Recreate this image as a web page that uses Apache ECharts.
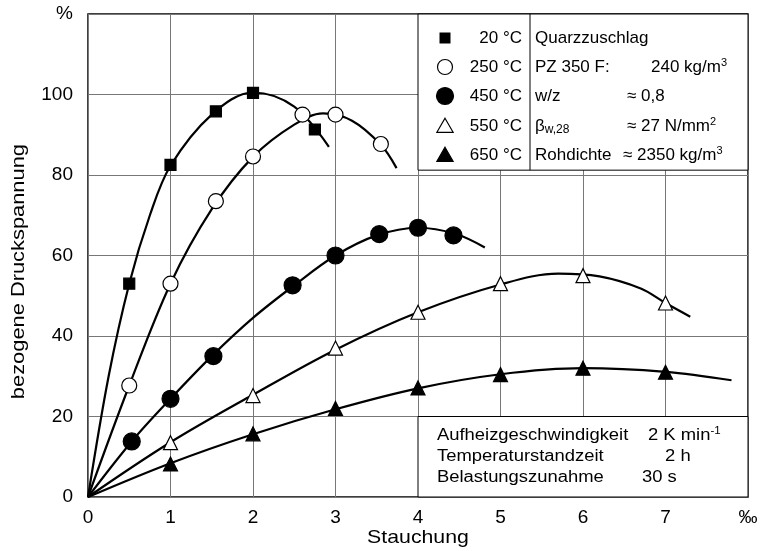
<!DOCTYPE html>
<html>
<head>
<meta charset="utf-8">
<script src="https://cdn.jsdelivr.net/npm/echarts@6/dist/echarts.min.js"></script>
<style>html,body{margin:0;padding:0;background:#fff}#c{width:762px;height:551px}</style>
</head>
<body>
<div id="c"></div>
<script>
// ---- data ----
const xTicks = [0, 1, 2, 3, 4, 5, 6, 7, 8];
const yTicks = [0, 20, 40, 60, 80, 100, 120];
const xUnit = '‰';
const yUnit = '%';
const xName = 'Stauchung';
const yName = 'bezogene Druckspannung';

const seriesNames = ['20 °C', '250 °C', '450 °C', '550 °C', '650 °C'];

// measured points
const pts20  = [[0.5, 53], [1, 82.5], [1.55, 95.8], [2, 100.4], [2.75, 91.3]];
const pts250 = [[0.5, 27.7], [1, 53], [1.55, 73.5], [2, 84.6], [2.6, 95], [3, 95], [3.55, 87.7]];
const pts450 = [[0.53, 13.8], [1, 24.4], [1.52, 35], [2.48, 52.6], [3, 60], [3.53, 65.3], [4, 66.9], [4.43, 65]];
const pts550 = [[1, 13.5], [2, 25.2], [3, 37], [4, 45.9], [5, 53], [6, 55], [7, 48.2]];
const pts650 = [[1, 8.2], [2, 15.7], [3, 22], [4, 27.1], [5, 30.4], [6, 32], [7, 31]];

// fitted curves
const curve20  = [[0, 0], [0.25, 30], [0.5, 53], [0.75, 70], [1, 82.3], [1.5, 95], [2, 100.5], [2.5, 97], [2.92, 87]];
const curve250 = [[0, 0], [0.5, 27.7], [1, 53], [1.5, 71.5], [2, 84.5], [2.5, 92.5], [2.85, 95.3], [3.2, 93.5], [3.55, 87.5], [3.74, 81.7]];
const curve450 = [[0, 0], [0.53, 13.8], [1, 24.4], [1.5, 35], [2, 44.5], [2.5, 52.6], [3, 60], [3.5, 65], [4, 66.9], [4.45, 65.4], [4.81, 62]];
const curve550 = [[0, 0], [1, 13.6], [2, 25.4], [3, 36.6], [4, 45.9], [5, 52.8], [5.7, 55.5], [6.2, 54.8], [6.7, 51.8], [7, 48.2], [7.3, 44.8]];
const curve650 = [[0, 0], [1, 8.4], [2, 15.6], [3, 21.8], [4, 27], [5, 30.5], [6, 32], [7, 31.1], [7.8, 29]];

const legendInfoLabels = ['Quarzzuschlag', 'PZ 350 F:', 'w/z', '{b|β}{sub|w,28}', 'Rohdichte'];
const legendInfoValues = ['', '240 kg/m{sup|3}', '≈ 0,8', '≈ 27 N/mm{sup|2}', '≈ 2350 kg/m{sup|3}'];
const condLabels = ['Aufheizgeschwindigkeit', 'Temperaturstandzeit', 'Belastungszunahme'];
const condValues = ['2 K min{sup|-1}', ' 2 h', '30 s'];

// ---- chart ----
const FONT = '"Liberation Sans", Arial, Helvetica, sans-serif';
const chart = echarts.init(document.getElementById('c'), null, {renderer: 'canvas'});

const markerDefs = [
  {symbol: 'rect', size: 11, fill: '#000'},
  {symbol: 'circle', size: 15, fill: '#fff'},
  {symbol: 'circle', size: 17, fill: '#000'},
  {symbol: 'triangle', size: 14, fill: '#fff'},
  {symbol: 'triangle', size: 14, fill: '#000'}
];
const ptsAll = [pts20, pts250, pts450, pts550, pts650];
const curvesAll = [curve20, curve250, curve450, curve550, curve650];

const series = [];
curvesAll.forEach((c, i) => {
  series.push({
    type: 'line', data: c, smooth: 0.35, showSymbol: false, silent: true,
    lineStyle: {color: '#000', width: 2.2}, z: 3
  });
});
ptsAll.forEach((p, i) => {
  const m = markerDefs[i];
  series.push({
    name: seriesNames[i], type: 'scatter', data: p, symbol: m.symbol, symbolSize: m.size,
    itemStyle: {color: m.fill, borderColor: '#000', borderWidth: 1.2, opacity: 1}, z: 5
  });
});

chart.setOption({
  animation: false,
  backgroundColor: '#fff',
  grid: {left: 88, right: 14, top: 14, bottom: 54, show: true, borderColor: '#000', borderWidth: 1.5, backgroundColor: 'transparent'},
  xAxis: {
    type: 'value', min: 0, max: 8, interval: 1,
    axisLine: {show: false}, axisTick: {show: false},
    axisLabel: {fontFamily: FONT, fontSize: 19, color: '#000', margin: 11,
      formatter: v => v === xTicks[xTicks.length - 1] ? xUnit : String(v)},
    splitLine: {show: true, lineStyle: {color: '#777', width: 1}}
  },
  yAxis: {
    type: 'value', min: 0, max: 120, interval: 20,
    axisLine: {show: false}, axisTick: {show: false},
    axisLabel: {fontFamily: FONT, fontSize: 19, color: '#000', margin: 15,
      formatter: v => v === yTicks[yTicks.length - 1] ? yUnit : String(v)},
    splitLine: {show: true, lineStyle: {color: '#777', width: 1}}
  },
  series: series
});

function px(x, y) { return chart.convertToPixel({gridIndex: 0}, [x, y]); }

function buildGraphics() {
  const g = [];
  // legend box (upper right)
  const a = px(4, 120), b = px(8, 81.2);
  g.push({type: 'rect', z: 10, shape: {x: a[0], y: a[1], width: b[0] - a[0], height: b[1] - a[1]},
    style: {fill: '#fff', stroke: '#000', lineWidth: 1}});
  const divX = a[0] + 112;
  g.push({type: 'line', z: 11, shape: {x1: divX, y1: a[1], x2: divX, y2: b[1]}, style: {stroke: '#000', lineWidth: 1}});
  const rowY = [24, 53, 82, 112, 141];
  const rich = {
    sup: {fontFamily: FONT, fontSize: 11, verticalAlign: 'top', lineHeight: 20, padding: [0, 0, 8, 0]},
    sub: {fontFamily: FONT, fontSize: 12, lineHeight: 20, padding: [8, 0, 0, 0]},
    b: {fontFamily: FONT, fontSize: 17, lineHeight: 20}
  };
  const rich2 = {
    sup: {fontFamily: FONT, fontSize: 10, verticalAlign: 'top', lineHeight: 18, padding: [0, 0, 8, 0]}
  };
  rowY.forEach((dy, i) => {
    const cy = a[1] + dy;
    const cx = a[0] + 27;
    const m = markerDefs[i];
    if (m.symbol === 'rect') {
      g.push({type: 'rect', z: 11, shape: {x: cx - 5.5, y: cy - 5.5, width: 11, height: 11}, style: {fill: '#000'}});
    } else if (m.symbol === 'circle') {
      const r = m.size / 2;
      g.push({type: 'circle', z: 11, shape: {cx: cx, cy: cy, r: r}, style: {fill: m.fill, stroke: '#000', lineWidth: 1.2}});
    } else {
      const s = m.size;
      g.push({type: 'polygon', z: 11, shape: {points: [[cx, cy - s * 0.55], [cx + s * 0.58, cy + s * 0.45], [cx - s * 0.58, cy + s * 0.45]]},
        style: {fill: m.fill, stroke: '#000', lineWidth: 1.2}});
    }
    g.push({type: 'text', z: 11, style: {text: seriesNames[i], x: a[0] + 104, y: cy, align: 'right', verticalAlign: 'middle',
      fontFamily: FONT, fontSize: 17, fill: '#000'}});
    g.push({type: 'text', z: 11, style: {text: legendInfoLabels[i], x: a[0] + 117, y: cy, align: 'left', verticalAlign: 'middle',
      fontFamily: FONT, fontSize: 17, fill: '#000', rich: rich}});
    if (legendInfoValues[i]) {
      const vx = i === 1 ? a[0] + 233 : (i === 4 ? a[0] + 205 : a[0] + 209);
      g.push({type: 'text', z: 11, style: {text: legendInfoValues[i], x: vx, y: cy, align: 'left', verticalAlign: 'middle',
        fontFamily: FONT, fontSize: 17, fill: '#000', rich: rich}});
    }
  });
  // conditions box (lower right)
  const c = px(4, 20), d = px(8, 0);
  g.push({type: 'rect', z: 10, shape: {x: c[0], y: c[1], width: d[0] - c[0], height: d[1] - c[1]},
    style: {fill: '#fff', stroke: '#000', lineWidth: 1}});
  const condRowY = [19, 40, 61];
  const condValX = [230, 242, 224];
  condRowY.forEach((dy, i) => {
    const cy = c[1] + dy;
    g.push({type: 'text', z: 11, x: c[0] + 19, y: cy, scaleX: 1.15,
      style: {text: condLabels[i], x: 0, y: 0, align: 'left', verticalAlign: 'middle',
      fontFamily: FONT, fontSize: 16, fill: '#000'}});
    g.push({type: 'text', z: 11, x: c[0] + condValX[i], y: cy, scaleX: 1.15,
      style: {text: condValues[i], x: 0, y: 0, align: 'left', verticalAlign: 'middle',
      fontFamily: FONT, fontSize: 16, fill: '#000', rich: rich2}});
  });
  // axis names
  const yn = px(0, 56);
  g.push({type: 'text', z: 11, rotation: Math.PI / 2, x: 19, y: yn[1], scaleX: 1.15,
    style: {text: yName, x: 0, y: 0, align: 'center', verticalAlign: 'middle',
      fontFamily: FONT, fontSize: 19, fill: '#000'}});
  const xn = px(4, 0);
  g.push({type: 'text', z: 11, x: xn[0], y: xn[1] + 41, scaleX: 1.12,
    style: {text: xName, x: 0, y: 0, align: 'center', verticalAlign: 'middle',
      fontFamily: FONT, fontSize: 19, fill: '#000'}});
  return g;
}
chart.setOption({graphic: buildGraphics()});
</script>
</body>
</html>
